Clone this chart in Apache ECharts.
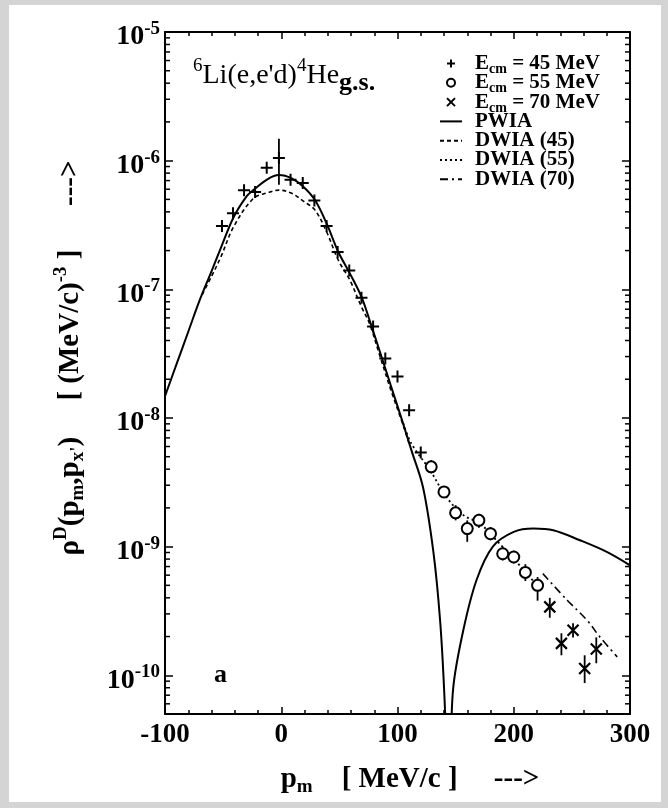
<!DOCTYPE html>
<html>
<head>
<meta charset="utf-8">
<script src="https://cdn.jsdelivr.net/npm/echarts@6/dist/echarts.min.js"></script>
<style>
  html, body { margin: 0; padding: 0; background: #d4d4d4; }
  #frame { position: absolute; left: 9px; top: 5px; right: 7px; bottom: 6px; background: #fff; }
  #chart { position: absolute; left: 0; top: 0; width: 668px; height: 808px; }
</style>
</head>
<body>
<div id="frame"></div>
<div id="chart"></div>
<script>
// data points (p_m in MeV/c, rho in (MeV/c)^-3)
// E_cm = 45 MeV (+)
const pm45 = [-51, -41.5, -32, -22.5, -12.5, -2, 8, 18.5, 28.5, 39, 48.5, 58.5, 69, 79, 89.5, 100, 110, 120]
const rho45 = [3.1e-7, 3.9e-7, 5.9e-7, 5.7e-7, 8.8e-7, 1.05e-6, 7.1e-7, 6.7e-7, 4.9e-7, 3.1e-7, 1.95e-7, 1.4e-7, 8.6e-8, 5.15e-8, 2.9e-8, 2.1e-8, 1.15e-8, 5.4e-9]
const lo45 = [null, null, null, null, null, 6.5e-7, null, null, null, null, null, null, null, null, null, null, null, null]
const hi45 = [null, null, null, null, null, 1.48e-6, null, null, null, null, null, null, null, null, null, null, null, null]

// E_cm = 55 MeV (o)
const pm55 = [129, 140, 150, 160, 170, 180, 190.5, 200, 210, 220.5]
const rho55 = [4.17e-9, 2.66e-9, 1.83e-9, 1.38e-9, 1.6e-9, 1.26e-9, 8.8e-10, 8.3e-10, 6.3e-10, 5.0e-10]
const lo55 = [3.7e-9, 2.4e-9, 1.6e-9, 1.09e-9, 1.4e-9, 1.12e-9, 7.8e-10, 7.4e-10, 5.4e-10, 3.8e-10]
const hi55 = [4.7e-9, 2.95e-9, 2.1e-9, 1.6e-9, 1.8e-9, 1.42e-9, 1.0e-9, 9.3e-10, 7.3e-10, 5.8e-10]

// E_cm = 70 MeV (x)
const pm70 = [231, 241, 251, 261, 271]
const rho70 = [3.4e-10, 1.77e-10, 2.24e-10, 1.13e-10, 1.6e-10]
const lo70 = [2.8e-10, 1.43e-10, 1.97e-10, 8.7e-11, 1.24e-10]
const hi70 = [4.0e-10, 2.12e-10, 2.54e-10, 1.43e-10, 1.97e-10]

// PWIA
const pmPW = [-100, -90, -80, -70, -60, -52, -41, -30, -24, -12, -2, 9, 19, 29, 39, 49, 59, 69, 76, 85, 95, 104, 112, 122, 131, 136.6, 140, 142, 144, 146, 148, 156.6, 168, 182, 200, 217, 234, 257, 280, 300]
const rhoPW = [1.48e-8, 2.63e-8, 4.68e-8, 8.3e-8, 1.38e-7, 2.09e-7, 3.63e-7, 5.25e-7, 5.9e-7, 7.16e-7, 7.73e-7, 7.28e-7, 6.27e-7, 4.94e-7, 3.25e-7, 1.96e-7, 1.33e-7, 8.75e-8, 5.75e-8, 3.24e-8, 1.7e-8, 9.55e-9, 5.6e-9, 2.88e-9, 8.9e-10, 2.7e-10, 8.1e-11, 2.5e-11, 1e-12, 2.5e-11, 8.1e-11, 2.24e-10, 5.5e-10, 1.0e-9, 1.3e-9, 1.38e-9, 1.34e-9, 1.12e-9, 9.1e-10, 7.16e-10]

// DWIA (45)
const pmD45 = [-68, -60, -52, -41, -24, -12, -2, 9, 19, 29, 39, 49, 59, 69, 76, 85, 95, 105, 110]
const rhoD45 = [9.1e-8, 1.26e-7, 1.78e-7, 3.06e-7, 5.09e-7, 5.62e-7, 5.9e-7, 5.57e-7, 4.85e-7, 4.13e-7, 2.8e-7, 1.69e-7, 1.18e-7, 7.3e-8, 5.4e-8, 3.0e-8, 1.58e-8, 8.7e-9, 6.3e-9]

// DWIA (55)
const pmD55 = [105, 112, 128, 142, 157, 171, 185, 200, 211, 223]
const rhoD55 = [9.1e-9, 6.3e-9, 3.93e-9, 2.43e-9, 1.75e-9, 1.51e-9, 1.12e-9, 8.07e-10, 6.17e-10, 4.72e-10]

// DWIA (70)
const pmD70 = [225, 246, 263, 274, 289]
const rhoD70 = [6.17e-10, 3.83e-10, 2.68e-10, 1.99e-10, 1.39e-10]

// log minor tick positions (2..9 x 10^k)
const minorDecades = [-11, -10, -9, -8, -7, -6]
const minorSteps = [2, 3, 4, 5, 6, 7, 8, 9]

const serif = 'Liberation Serif'
const zip = (xs, ys) => xs.map((x, i) => [x, ys[i]])

function errSeries(xs, lo, hi) {
  return {
    type: 'custom',
    silent: true,
    z: 3,
    encode: { x: 0, y: [1, 2] },
    data: xs.map((x, i) => [x, lo[i], hi[i]]).filter((d) => d[1] != null),
    renderItem: function (params, api) {
      let a = api.coord([api.value(0), api.value(1)])
      let b = api.coord([api.value(0), api.value(2)])
      return {
        type: 'line',
        shape: { x1: a[0], y1: a[1], x2: b[0], y2: b[1] },
        style: { stroke: '#000', lineWidth: 1.8 },
      }
    },
  }
}

let minorTicks = []
minorDecades.forEach((k) => {
  minorSteps.forEach((m) => {
    let v = m * Math.pow(10, k)
    if (v > 5e-11 && v < 1e-5) minorTicks.push([-100, v])
  })
})

// every row gets the same sub token so all legend rows are equally tall
const legendText = {
  'E45': 'E{sub|cm} = 45 MeV',
  'E55': 'E{sub|cm} = 55 MeV',
  'E70': 'E{sub|cm} = 70 MeV',
  'PWIA': 'PWIA{sub| }',
  'DWIA45': 'DWIA (45){sub| }',
  'DWIA55': 'DWIA (55){sub| }',
  'DWIA70': 'DWIA (70){sub| }',
}

const tickStyle = { color: '#000', width: 1.5 }
const xCommon = {
  type: 'value',
  min: -100,
  max: 300,
  interval: 100,
  splitLine: { show: false },
  axisLine: { onZero: false, lineStyle: { color: '#000', width: 2 } },
  axisTick: { inside: true, length: 7, lineStyle: tickStyle },
  minorTick: { show: true, splitNumber: 5, length: 4, lineStyle: tickStyle },
  minorSplitLine: { show: false },
}
const yCommon = {
  type: 'log',
  logBase: 10,
  min: 5e-11,
  max: 1e-5,
  splitLine: { show: false },
  axisLine: { onZero: false, lineStyle: { color: '#000', width: 2 } },
  axisTick: { inside: true, length: 8, lineStyle: tickStyle },
}

let mychart = echarts.init(document.getElementById('chart'))
let option = {
  animation: false,
  textStyle: { fontFamily: serif },
  grid: { left: 165, right: 38, top: 32, bottom: 94 },
  xAxis: [
    Object.assign({}, xCommon, {
      position: 'bottom',
      axisLabel: { color: '#000', fontSize: 27, fontWeight: 'bold', fontFamily: serif, margin: 8 },
      name: 'p{sub|m}    [ MeV/c ]     --->',
      nameLocation: 'middle',
      nameGap: 49,
      nameTextStyle: {
        color: '#000', fontSize: 29, fontWeight: 'bold', fontFamily: serif, padding: [0, 0, 0, 25],
        rich: { sub: { fontSize: 19, fontWeight: 'bold', fontFamily: serif, padding: [15, 0, 0, 0] } },
      },
    }),
    Object.assign({}, xCommon, { position: 'top', axisLabel: { show: false } }),
  ],
  yAxis: [
    Object.assign({}, yCommon, {
      position: 'left',
      axisLabel: {
        color: '#000',
        fontSize: 28,
        fontWeight: 'bold',
        fontFamily: serif,
        margin: 5,
        padding: [10, 0, 0, 0],
        formatter: function (value) {
          let e = Math.log10(value)
          let k = Math.round(e)
          if (Math.abs(e - k) > 1e-6) return ''
          return '10{sup|' + k + '}'
        },
        rich: { sup: { fontSize: 19, fontWeight: 'bold', fontFamily: serif, padding: [0, 0, 16, 0] } },
      },
      name: '\u03c1{sup|D}(p{sub|m},p{sub|x\'})     [ (MeV/c){sup|-3} ]      --->',
      nameLocation: 'middle',
      nameRotate: 90,
      nameGap: 76,
      nameTextStyle: {
        color: '#000', fontSize: 29, fontWeight: 'bold', fontFamily: serif, padding: [0, 0, 0, 30],
        rich: {
          sup: { fontSize: 19, fontWeight: 'bold', fontFamily: serif, padding: [0, 0, 18, 0] },
          sub: { fontSize: 19, fontWeight: 'bold', fontFamily: serif, padding: [15, 0, 0, 0] },
        },
      },
    }),
    Object.assign({}, yCommon, { position: 'right', axisLabel: { show: false } }),
  ],
  legend: {
    orient: 'vertical',
    left: 434,
    top: 48,
    itemWidth: 22,
    itemHeight: 8,
    itemGap: -4.2,
    selectedMode: false,
    data: [
      'E45', 'E55', 'E70',
      { name: 'PWIA', itemStyle: { opacity: 0 } },
      { name: 'DWIA45', itemStyle: { opacity: 0 } },
      { name: 'DWIA55', itemStyle: { opacity: 0 } },
      { name: 'DWIA70', itemStyle: { opacity: 0 } },
    ],
    formatter: (n) => legendText[n],
    textStyle: {
      color: '#000', fontSize: 21, fontWeight: 'bold', fontFamily: serif, padding: [0, 0, 0, 8],
      rich: { sub: { fontSize: 14, fontWeight: 'bold', fontFamily: serif, padding: [12, 0, 0, 0] } },
    },
  },
  graphic: [
    {
      type: 'text',
      left: 193,
      top: 57,
      style: {
        text: '{sup|6}Li(e,e\'d){sup|4}He{sub|g.s.}',
        fontSize: 28,
        fontFamily: serif,
        fill: '#000',
        rich: {
          sup: { fontSize: 19, fontFamily: serif, padding: [0, 0, 18, 0] },
          sub: { fontSize: 26, fontFamily: serif, fontWeight: 'bold', padding: [16, 0, 0, 0] },
        },
      },
    },
    {
      type: 'text',
      left: 214,
      top: 662,
      style: { text: 'a', fontSize: 26, fontFamily: serif, fontWeight: 'bold', fill: '#000' },
    },
  ],
  series: [
    {
      name: 'PWIA', type: 'line', data: zip(pmPW, rhoPW), symbol: 'none', smooth: 0.35, clip: true,
      lineStyle: { color: '#000', width: 2 }, itemStyle: { color: '#000' },
    },
    {
      name: 'DWIA45', type: 'line', data: zip(pmD45, rhoD45), symbol: 'none', smooth: 0.35,
      lineStyle: { color: '#000', width: 1.6, type: [4, 3] }, itemStyle: { color: '#000' },
    },
    {
      name: 'DWIA55', type: 'line', data: zip(pmD55, rhoD55), symbol: 'none', smooth: 0.35,
      lineStyle: { color: '#000', width: 1.8, type: [2, 3] }, itemStyle: { color: '#000' },
    },
    {
      name: 'DWIA70', type: 'line', data: zip(pmD70, rhoD70), symbol: 'none', smooth: 0.35,
      lineStyle: { color: '#000', width: 1.6, type: [8, 4, 2, 4] }, itemStyle: { color: '#000' },
    },
    errSeries(pm45, lo45, hi45),
    errSeries(pm55, lo55, hi55),
    errSeries(pm70, lo70, hi70),
    {
      name: 'E45', type: 'scatter', data: zip(pm45, rho45), z: 4,
      symbol: 'path://M5,0V10M0,5H10', symbolSize: 12, symbolKeepAspect: true,
      itemStyle: { color: 'rgba(0,0,0,0)', borderColor: '#000', borderWidth: 2, opacity: 1 },
    },
    {
      name: 'E55', type: 'scatter', data: zip(pm55, rho55), z: 4,
      symbol: 'emptyCircle', symbolSize: 11,
      itemStyle: { color: '#000', borderColor: '#000', borderWidth: 1.8, opacity: 1 },
    },
    {
      name: 'E70', type: 'scatter', data: zip(pm70, rho70), z: 4,
      symbol: 'path://M0,0L10,10M10,0L0,10', symbolSize: 11, symbolKeepAspect: true,
      itemStyle: { color: 'rgba(0,0,0,0)', borderColor: '#000', borderWidth: 2.2, opacity: 1 },
    },
    {
      type: 'custom',
      silent: true,
      encode: { x: 0, y: 1 },
      data: minorTicks,
      renderItem: function (params, api) {
        let l = api.coord([-100, api.value(1)])
        let r = api.coord([300, api.value(1)])
        return {
          type: 'group',
          children: [
            { type: 'line', shape: { x1: l[0], y1: l[1], x2: l[0] + 5, y2: l[1] }, style: { stroke: '#000', lineWidth: 1.5 } },
            { type: 'line', shape: { x1: r[0], y1: r[1], x2: r[0] - 5, y2: r[1] }, style: { stroke: '#000', lineWidth: 1.5 } },
          ],
        }
      },
    },
  ],
}
mychart.setOption(option, true)
</script>
</body>
</html>
